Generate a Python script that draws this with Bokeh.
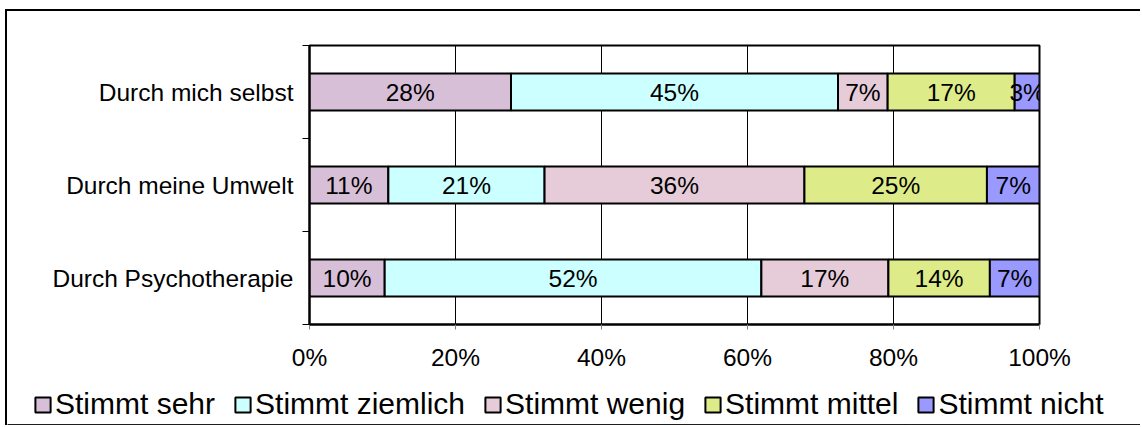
from bokeh.plotting import figure
from bokeh.layouts import column
from bokeh.models import ColumnDataSource, FixedTicker, LabelSet, Legend, LegendItem, Range1d
from bokeh.core.properties import value
from bokeh.embed import file_html
from bokeh.resources import INLINE

# categories listed bottom to top
categories = ["Durch Psychotherapie", "Durch meine Umwelt", "Durch mich selbst"]
series = ["Stimmt sehr", "Stimmt ziemlich", "Stimmt wenig", "Stimmt mittel", "Stimmt nicht"]
stimmt_sehr = [10.3, 10.8, 27.6]
stimmt_ziemlich = [51.6, 21.4, 44.8]
stimmt_wenig = [17.4, 35.6, 6.8]
stimmt_mittel = [13.9, 25.0, 17.4]
stimmt_nicht = [6.8, 7.2, 3.4]
x_ticks = [0, 20, 40, 60, 80, 100]
x_tick_labels = ["0%", "20%", "40%", "60%", "80%", "100%"]
colors = ["#D8BFD8", "#CCFFFF", "#E6CCD8", "#DDEC88", "#9999FF"]

FONT = "Liberation Sans"
FS = "24.5px"
values = [stimmt_sehr, stimmt_ziemlich, stimmt_wenig, stimmt_mittel, stimmt_nicht]
keys = ["s%d" % i for i in range(len(series))]
ypos = [i + 0.5 for i in range(len(categories))]

data = {"y": ypos}
for k, v in zip(keys, values):
    data[k] = v
src = ColumnDataSource(data)

W = 1133
p = figure(width=W, height=368, output_backend="svg", toolbar_location=None,
           x_range=Range1d(0, 100), y_range=Range1d(0, 3),
           min_border_left=302, min_border_right=101, min_border_top=34, min_border_bottom=55)
p.frame_align = False
p.background_fill_color = "white"
p.border_fill_color = "white"
p.outline_line_color = "black"
p.outline_line_width = 2

renderers = p.hbar_stack(keys, y="y", height=0.4, color=colors, line_color="black",
                         line_width=2, source=src)

# segment labels
lx, ly, lt = [], [], []
for j, y in enumerate(ypos):
    cum = 0.0
    for v in values:
        lx.append(cum + v[j] / 2.0)
        ly.append(y)
        lt.append("%d%%" % int(v[j] + 0.5))
        cum += v[j]
lab_src = ColumnDataSource(dict(x=lx, y=ly, text=lt))
labels = LabelSet(x="x", y="y", text="text", source=lab_src, text_align="center",
                  text_baseline="middle", text_font_size=value(FS),
                  text_font=value(FONT), text_color="black")
p.add_layout(labels)

# grid
p.xgrid.ticker = FixedTicker(ticks=x_ticks)
p.xgrid.grid_line_color = "black"
p.xgrid.grid_line_width = 1
p.ygrid.visible = False

# x axis
xa = p.xaxis[0]
xa.ticker = FixedTicker(ticks=x_ticks)
xa.major_label_overrides = {t: l for t, l in zip(x_ticks, x_tick_labels)}
xa.major_tick_out = 5
xa.major_tick_in = 0
xa.major_tick_line_color = "#808080"
xa.minor_tick_out = 0
xa.minor_tick_in = 0
xa.axis_line_color = "black"
xa.axis_line_width = 2
xa.major_label_text_font = FONT
xa.major_label_text_font_size = FS
xa.major_label_text_color = "black"
xa.major_label_standoff = 14

# y axis
ya = p.yaxis[0]
ya.ticker = FixedTicker(ticks=ypos, minor_ticks=[0, 1, 2, 3])
ya.major_label_overrides = {y: c for y, c in zip(ypos, categories)}
ya.major_tick_out = 0
ya.major_tick_in = 0
ya.minor_tick_out = 7
ya.minor_tick_in = 0
ya.minor_tick_line_color = "black"
ya.minor_tick_line_width = 1
ya.axis_line_color = "black"
ya.axis_line_width = 2
ya.major_label_text_font = FONT
ya.major_label_text_font_size = FS
ya.major_label_text_color = "black"
ya.major_label_standoff = 9

# legend strip below the chart (its bars sit outside its visible range)
L = figure(width=W, height=46, output_backend="svg", toolbar_location=None,
           x_range=Range1d(0, 100), y_range=Range1d(10, 11),
           min_border_left=0, min_border_right=0, min_border_top=0, min_border_bottom=0)
L.frame_align = False
L.axis.visible = False
L.grid.visible = False
L.outline_line_color = None
L.background_fill_color = "white"
L.border_fill_color = "white"
leg_renderers = L.hbar_stack(keys, y="y", height=0.4, color=colors, line_color="black",
                             line_width=2, source=src)
legend = Legend(items=[LegendItem(label=s, renderers=[r]) for s, r in zip(series, leg_renderers)],
                orientation="horizontal", location=(26, 4),
                glyph_width=19, glyph_height=19, label_standoff=3, spacing=18,
                padding=0, margin=0, label_height=30,
                label_text_font=FONT, label_text_font_size="30px", label_text_color="black",
                border_line_alpha=0, background_fill_alpha=0)
L.add_layout(legend)

layout = column(p, L, spacing=0,
                styles={"margin-left": "5px", "margin-top": "9px",
                        "border-left": "2px solid black", "border-top": "2px solid black"})

open("out.html", "w").write(file_html(layout, INLINE))
